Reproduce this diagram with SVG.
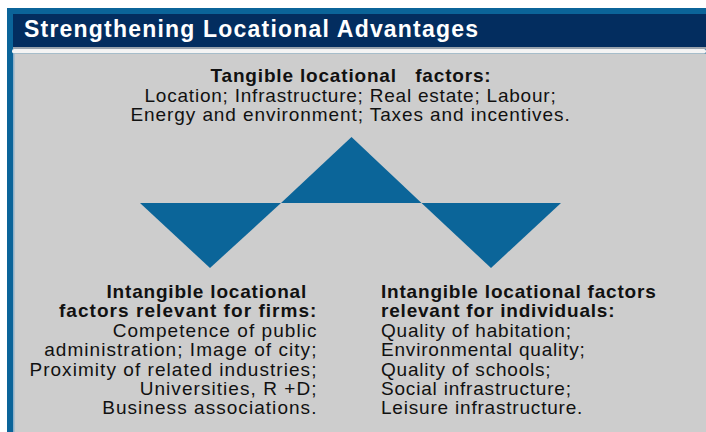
<svg xmlns="http://www.w3.org/2000/svg" width="706" height="432" viewBox="0 0 706 432">
  <style>
    .txt { font-family: "Liberation Sans", Arial, sans-serif; font-size: 19px; fill: #111; letter-spacing: 0.8px; }
    .b { font-weight: bold; }
    .wide { letter-spacing: 1.05px; }
    .title { font-family: "Liberation Sans", Arial, sans-serif; font-size: 23px; font-weight: bold; fill: #ffffff; }
    .tri { fill: #0b6599; }
  </style>
  <rect x="0" y="0" width="706" height="432" fill="#ffffff"/>
  <!-- frame and header -->
  <g id="frame">
    <rect x="7" y="8" width="699" height="424" fill="#0b6499"/>
    <rect x="13" y="14" width="693" height="33" fill="#032d5f"/>
    <rect x="13" y="47" width="693" height="2" fill="#9aa3ad"/>
    <rect x="12" y="49" width="694" height="4.5" rx="2" fill="#f4f4f4"/>
    <rect x="13" y="53.5" width="693" height="379" fill="#cdcdcd"/>
    <rect x="13" y="53.5" width="1.5" height="379" fill="#8fb0c8"/>
    <text class="title" x="24" y="37" textLength="454" lengthAdjust="spacing">Strengthening Locational Advantages</text>
  </g>
  <!-- triangles -->
  <g id="triangles">
    <polygon class="tri" points="281,203 351.5,137 421.5,203"/>
    <polygon class="tri" points="140,203 281,203 210,268"/>
    <polygon class="tri" points="421.5,203 561,203 491,268"/>
  </g>
  <!-- tangible factors -->
  <g id="tangible" text-anchor="middle">
    <text class="txt b" x="351" y="82" style="white-space:pre" textLength="281" lengthAdjust="spacing">Tangible locational   factors:</text>
    <text class="txt" x="350.5" y="101.5" textLength="412" lengthAdjust="spacing">Location; Infrastructure; Real estate; Labour;</text>
    <text class="txt" x="350.5" y="121" textLength="440" lengthAdjust="spacing">Energy and environment; Taxes and incentives.</text>
  </g>
  <!-- intangible factors for firms -->
  <g id="firms" text-anchor="end">
    <text class="txt b" x="307" y="298">Intangible locational</text>
    <text class="txt b wide" x="317.5" y="317.4">factors relevant for firms:</text>
    <text class="txt wide" x="317.5" y="336.8">Competence of public</text>
    <text class="txt wide" x="317.5" y="356.2">administration; Image of city;</text>
    <text class="txt wide" x="317.5" y="375.6">Proximity of related industries;</text>
    <text class="txt wide" x="317.5" y="395">Universities, R +D;</text>
    <text class="txt wide" x="317.5" y="414.4">Business associations.</text>
  </g>
  <!-- intangible factors for individuals -->
  <g id="individuals" text-anchor="start">
    <text class="txt b" x="381" y="298">Intangible locational factors</text>
    <text class="txt b" x="381" y="317.4">relevant for individuals:</text>
    <text class="txt" x="381" y="336.8">Quality of habitation;</text>
    <text class="txt" x="381" y="356.2">Environmental quality;</text>
    <text class="txt" x="381" y="375.6">Quality of schools;</text>
    <text class="txt" x="381" y="395">Social infrastructure;</text>
    <text class="txt" x="381" y="414.4">Leisure infrastructure.</text>
  </g>
</svg>
